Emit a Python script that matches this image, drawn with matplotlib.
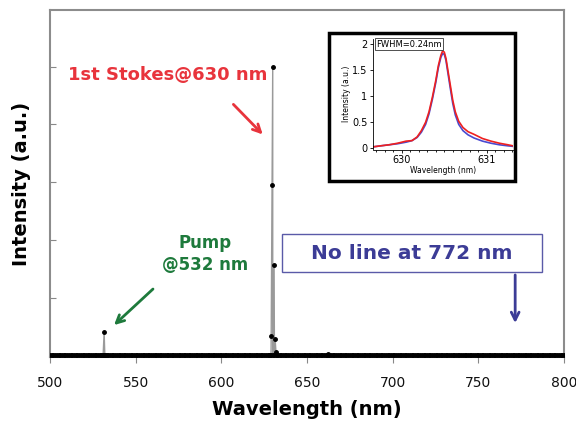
import numpy as np
import matplotlib
matplotlib.use("Agg")
import matplotlib.pyplot as plt
from matplotlib.patches import Rectangle

# ---- main spectrum data ----
base_wl = np.arange(500, 801, 1.0)
base_int = np.zeros_like(base_wl)
pump_wl = [531.0, 531.6, 532.2]
pump_int = [0.0, 0.40, 0.0]
stokes_wl = [628.6, 629.1, 629.6, 630.0, 630.8, 631.4, 631.9, 632.6]
stokes_int = [0.0, 0.34, 2.95, 5.0, 1.57, 0.28, 0.05, 0.0]
bump_wl = [661.5, 662.0, 662.5]
bump_int = [0.0, 0.03, 0.0]

# combine into one sorted spectrum
wl = np.concatenate([base_wl, pump_wl, stokes_wl, bump_wl])
inten = np.concatenate([base_int, pump_int, stokes_int, bump_int])
order = np.argsort(wl)
wl, inten = wl[order], inten[order]

# ---- inset data ----
in_wl = [629.66, 629.75, 629.85, 629.95, 630.05, 630.12, 630.18, 630.23, 630.28,
         630.32, 630.36, 630.40, 630.43, 630.46, 630.48, 630.50, 630.52, 630.54,
         630.57, 630.60, 630.63, 630.67, 630.72, 630.78, 630.85, 630.95, 631.05,
         631.15, 631.25, 631.31]
red_int = [0.03, 0.05, 0.07, 0.10, 0.14, 0.15, 0.22, 0.34, 0.50,
           0.70, 0.98, 1.30, 1.58, 1.78, 1.86, 1.84, 1.72, 1.52,
           1.22, 0.92, 0.70, 0.52, 0.40, 0.32, 0.27, 0.19, 0.14,
           0.10, 0.07, 0.05]
blue_int = [0.03, 0.05, 0.07, 0.09, 0.12, 0.15, 0.21, 0.31, 0.46,
            0.66, 0.94, 1.26, 1.54, 1.74, 1.81, 1.80, 1.68, 1.47,
            1.16, 0.86, 0.64, 0.46, 0.34, 0.26, 0.20, 0.14, 0.10,
            0.07, 0.05, 0.04]

xticks = [500, 550, 600, 650, 700, 750, 800]
yticks = [0, 1, 2, 3, 4, 5]

fig = plt.figure(figsize=(5.76, 4.32), dpi=100)
ax = fig.add_axes([50/576, 1-357/432, 514/576, 347/432])

ax.plot(wl, inten, color="#9a9a9a", lw=1.0, zorder=2)
ax.plot(wl, inten, 'o', color="black", ms=2.5, zorder=3)

ax.set_xlim(500, 800)
ax.set_ylim(-0.03, 5.98)
ax.set_xticks(xticks)
ax.set_xticklabels([str(t) for t in xticks], fontsize=10)
ax.set_yticks(yticks)
ax.set_yticklabels([])
ax.tick_params(axis='x', direction='out', length=4, color="#888888", labelcolor="#111111", pad=10)
ax.tick_params(axis='y', direction='in', length=4, color="#888888")
for s in ax.spines.values():
    s.set_color("#8c8c8c")
    s.set_linewidth(1.5)

ax.set_xlabel("Wavelength (nm)", fontsize=14, fontweight='bold', labelpad=7)
ax.set_ylabel("Intensity (a.u.)", fontsize=14, fontweight='bold', labelpad=10)

red = "#e8343c"
green = "#1e7a3c"
navy = "#3c3c96"

ax.text(568.9, 4.86, "1st Stokes@630 nm", color=red, fontsize=13, fontweight='bold',
        ha='center', va='center')
ax.annotate("", xy=(625.3, 3.79), xytext=(605.9, 4.38),
            arrowprops=dict(arrowstyle="->", color=red, lw=2, mutation_scale=14))

ax.text(590.5, 1.75, "Pump\n@532 nm", color=green, fontsize=12, fontweight='bold',
        ha='center', va='center', linespacing=1.3)
ax.annotate("", xy=(536.2, 0.49), xytext=(561.3, 1.18),
            arrowprops=dict(arrowstyle="->", color=green, lw=2, mutation_scale=14))

ax.add_patch(Rectangle((635.4, 1.44), 151.8, 0.66, fill=True, facecolor='white',
                       edgecolor="#5a5aa8", lw=1.0, zorder=4))
ax.text(711.3, 1.77, "No line at 772 nm", color=navy, fontsize=14.5, fontweight='bold',
        ha='center', va='center', zorder=5)
ax.annotate("", xy=(771.5, 0.51), xytext=(771.5, 1.44),
            arrowprops=dict(arrowstyle="->", color=navy, lw=2, mutation_scale=14))

# inset frame
fig.patches.append(Rectangle((329/576, 1-181/432), 186/576, 148/432,
                             transform=fig.transFigure, facecolor='white',
                             edgecolor='black', lw=2.5, zorder=5))

iax = fig.add_axes([373/576, 1-149.5/432, 140/576, 111/432], zorder=6)
iax.patch.set_alpha(0)
iax.plot(in_wl, blue_int, color="#4a4ad0", lw=1.2)
iax.plot(in_wl, red_int, color="#ee2020", lw=1.2)
iax.set_xlim(629.66, 631.31)
iax.set_ylim(-0.02, 2.1)
iax.set_xticks([630, 631])
iax.set_xticks(np.arange(629.7, 631.31, 0.1), minor=True)
iax.set_yticks([0, 0.5, 1, 1.5, 2])
iax.set_yticklabels(["0", "0.5", "1", "1.5", "2"])
iax.tick_params(labelsize=7, length=2.5, width=0.6, pad=1.5)
iax.tick_params(which='minor', length=1.5, width=0.6)
iax.spines['top'].set_visible(False)
iax.spines['right'].set_visible(False)
for s in ['left', 'bottom']:
    iax.spines[s].set_linewidth(0.6)
iax.set_xlabel("Wavelength (nm)", fontsize=5.5, labelpad=0.5)
iax.set_ylabel("Intensity (a.u.)", fontsize=5.5, labelpad=1)
iax.text(0.02, 0.99, "FWHM=0.24nm", transform=iax.transAxes, fontsize=6,
         ha='left', va='top',
         bbox=dict(boxstyle='square,pad=0.15', facecolor='white', edgecolor='#333333', lw=0.6))

fig.savefig("out.png", dpi=100)
